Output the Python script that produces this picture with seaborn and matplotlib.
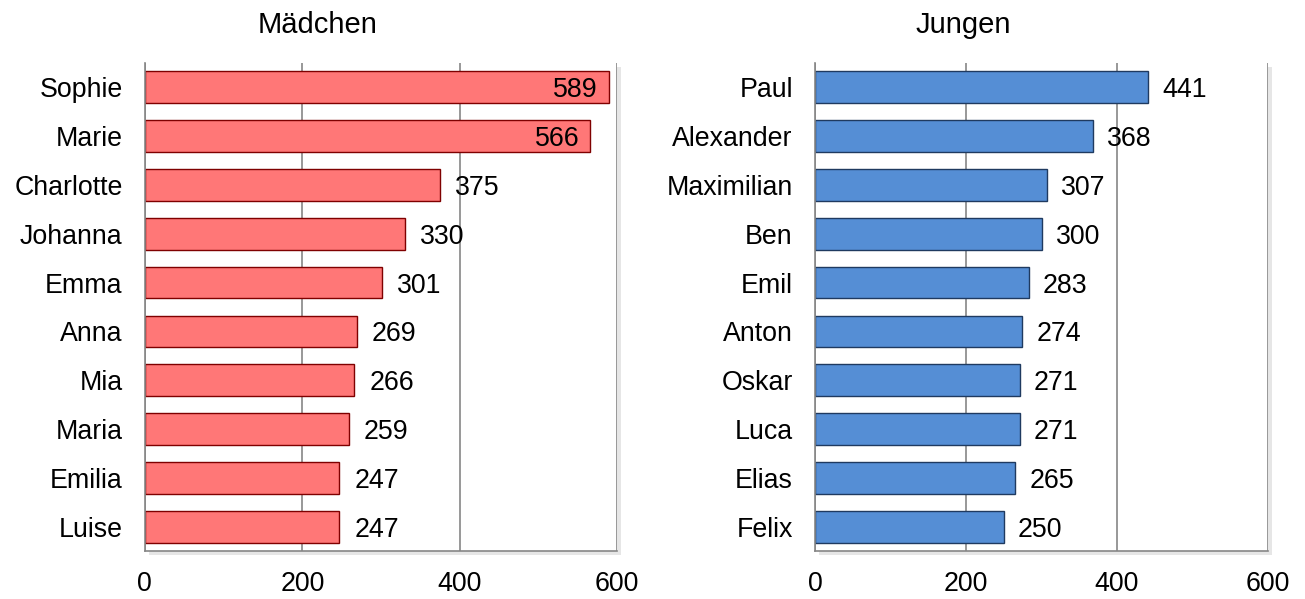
import matplotlib.pyplot as plt
import matplotlib.patheffects as pe
import seaborn as sns
import pandas as pd

girls_names = ['Sophie', 'Marie', 'Charlotte', 'Johanna', 'Emma',
               'Anna', 'Mia', 'Maria', 'Emilia', 'Luise']
girls_counts = [589, 566, 375, 330, 301, 269, 266, 259, 247, 247]

boys_names = ['Paul', 'Alexander', 'Maximilian', 'Ben', 'Emil',
              'Anton', 'Oskar', 'Luca', 'Elias', 'Felix']
boys_counts = [441, 368, 307, 300, 283, 274, 271, 271, 265, 250]

sns.set_style('white')
plt.rcParams['font.family'] = ['Liberation Sans', 'DejaVu Sans']
plt.rcParams['text.color'] = 'black'
plt.rcParams['xtick.labelcolor'] = 'black'
plt.rcParams['ytick.labelcolor'] = 'black'

FS = 19.3

fig = plt.figure(figsize=(13.05, 5.99), dpi=100)
ax_g = fig.add_axes([0.111, 0.080, 0.362, 0.815])
ax_b = fig.add_axes([0.6245, 0.080, 0.3472, 0.815])


def draw_panel(ax, names, counts, face, edge, inside_n):
    df = pd.DataFrame({'name': names, 'count': counts})
    sns.barplot(data=df, x='count', y='name', ax=ax, orient='h',
                color=face, saturation=1, width=0.65,
                edgecolor=edge, linewidth=1)
    ax.set_xlim(0, 600)
    ax.set_ylim(len(names) - 0.5, -0.5)
    ax.set_xticks([0, 200, 400, 600])
    ax.xaxis.grid(True, color='#868686', linewidth=1.2)
    ax.set_axisbelow(True)
    ax.set_xlabel('')
    ax.set_ylabel('')
    # category ticks sit between bars
    ax.set_yticks(range(len(names)))
    ax.set_yticklabels(names)
    ax.set_yticks([i - 0.5 for i in range(len(names) + 1)], minor=True)
    ax.tick_params(axis='y', which='major', length=0, pad=16, labelsize=FS)
    ax.tick_params(axis='y', which='minor', length=5, width=1.2,
                   color='#868686', direction='out')
    ax.tick_params(axis='x', length=8, width=1.2, color='#868686',
                   direction='inout', labelsize=FS, pad=10)
    for side in ['top', 'right']:
        ax.spines[side].set_visible(False)
    for side in ['left', 'bottom']:
        ax.spines[side].set_color('#868686')
        ax.spines[side].set_linewidth(1.2)
    ax.patch.set_path_effects([pe.SimplePatchShadow(offset=(3, -3), alpha=0.18,
                                                    shadow_rgbFace='#777777'),
                               pe.Normal()])
    for i, v in enumerate(counts):
        if i < inside_n:
            ax.text(v - 14, i + 0.06, str(v), ha='right', va='center', fontsize=FS)
        else:
            ax.text(v + 19, i + 0.06, str(v), ha='left', va='center', fontsize=FS)


draw_panel(ax_g, girls_names, girls_counts, '#FF7777', '#7F0000', 2)
draw_panel(ax_b, boys_names, boys_counts, '#558ED5', '#1F3A60', 0)

fig.text(318 / 1305, 1 - 25 / 599, 'Mädchen', ha='center', va='center', fontsize=21)
fig.text(963 / 1305, 1 - 25 / 599, 'Jungen', ha='center', va='center', fontsize=21)

fig.savefig('out.png', dpi=100)
